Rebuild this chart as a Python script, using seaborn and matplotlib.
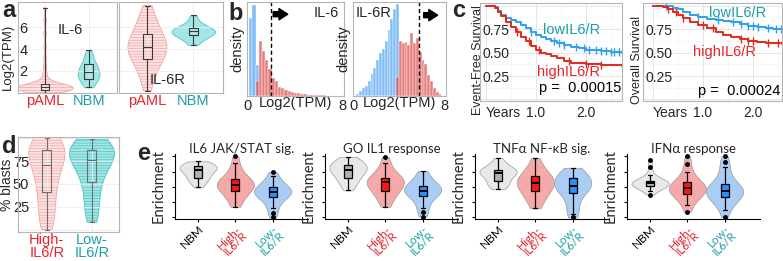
import numpy as np
import pandas as pd
import matplotlib
matplotlib.use("Agg")
import matplotlib.pyplot as plt
import seaborn as sns

# ---- a: log2(TPM), pediatric AML vs normal bone marrow ----
il6_paml = [0.0, 0.03, 0.06, 0.1, 0.13, 0.16, 0.19, 0.21, 0.23, 0.25,
            0.27, 0.3, 0.33, 0.36, 0.39, 0.42, 0.45, 0.48, 0.5, 0.52,
            0.55, 0.58, 0.6, 0.62, 0.64, 0.66, 0.68, 0.7, 0.72, 0.75,
            0.9, 1.1, 1.4, 1.8, 2.4, 3.2, 4.2, 5.4, 6.6, 7.8]
il6_nbm = [0.5, 0.8, 1.0, 1.15, 1.25, 1.3, 1.45, 1.6, 1.7, 1.8, 1.95,
           2.0, 2.1, 2.25, 2.45, 2.6, 2.7, 2.95, 3.3, 3.6, 3.95]
il6r_paml = [0.2, 1.0, 1.6, 2.1, 2.5, 2.8, 3.1, 3.3, 3.5, 3.7, 3.9, 4.05, 4.2,
             4.35, 4.5, 4.7, 4.9, 5.1, 5.4, 5.7, 6.0, 6.4, 6.8, 7.3, 8.0]
il6r_nbm = [4.4, 4.8, 5.0, 5.2, 5.3, 5.4, 5.5, 5.6, 5.65, 5.7, 5.8, 5.9,
            6.0, 6.2, 6.5, 7.1]

# ---- b: histogram bar heights (share of panel height) ----
b_il6_x_low = [0.27, 0.54, 0.81]
b_il6_low = [0.83, 0.97, 0.33]
b_il6_x_high = [0.81, 1.08, 1.35, 1.62, 1.89, 2.16, 2.43, 2.70, 2.97, 3.24,
                3.51, 3.78, 4.05, 4.32, 4.59, 4.86, 5.13, 5.40, 5.67, 5.94,
                6.21, 6.48, 6.75, 7.02, 7.29, 7.56, 7.83]
b_il6_high = [0.16, 0.59, 0.48, 0.38, 0.29, 0.19, 0.16, 0.10, 0.09, 0.06,
              0.05, 0.04, 0.03, 0.03, 0.02, 0.02, 0.015, 0.012, 0.01, 0.008,
              0.008, 0.006, 0.005, 0.005, 0.004, 0.003, 0.003]
b_il6r_x_low = [0.375, 0.625, 0.875, 1.125, 1.375, 1.625, 1.875, 2.125,
                2.375, 2.625, 2.875, 3.125, 3.375, 3.625, 3.875]
b_il6r_low = [0.02, 0.05, 0.085, 0.11, 0.16, 0.23, 0.30, 0.38,
              0.46, 0.50, 0.59, 0.70, 0.82, 0.93, 0.98]
b_il6r_x_high = [3.875, 4.125, 4.375, 4.625, 4.875, 5.125, 5.375, 5.625,
                 5.875, 6.125, 6.375, 6.625, 6.875, 7.125, 7.375, 7.625]
b_il6r_high = [0.2, 0.58, 0.56, 0.57, 0.54, 0.67, 0.56, 0.62,
               0.47, 0.38, 0.34, 0.22, 0.16, 0.08, 0.045, 0.02]

# ---- c: Kaplan-Meier curves (years, survival) ----
efs_low_t = [0, 0.18, 0.25, 0.3, 0.4, 0.5, 0.6, 0.7, 0.8, 0.9, 1.0, 1.1, 1.2,
             1.3, 1.41, 1.55, 1.7, 1.85, 2.0, 2.3, 2.5, 2.72]
efs_low_s = [1.0, 0.98, 0.94, 0.90, 0.87, 0.85, 0.83, 0.79, 0.76, 0.72, 0.69,
             0.66, 0.64, 0.62, 0.60, 0.58, 0.56, 0.545, 0.53, 0.52, 0.51, 0.50]
efs_high_t = [0, 0.18, 0.25, 0.3, 0.4, 0.5, 0.6, 0.7, 0.8, 0.9, 1.0, 1.1, 1.2,
              1.3, 1.41, 1.55, 1.7, 1.85, 2.0, 2.3, 2.72]
efs_high_s = [1.0, 0.97, 0.93, 0.89, 0.82, 0.77, 0.72, 0.67, 0.62, 0.57, 0.53,
              0.50, 0.48, 0.46, 0.44, 0.41, 0.39, 0.385, 0.38, 0.37, 0.36]
efs_low_cens = [0.9, 1.35, 1.45, 1.55, 1.8, 1.95, 2.05, 2.2, 2.3, 2.4, 2.5, 2.55, 2.65]
efs_high_cens = [0.62, 0.85, 1.05, 1.65, 2.0, 2.3]

os_low_t = [0, 0.3, 0.4, 0.5, 0.6, 0.74, 0.9, 1.08, 1.25, 1.4, 1.55, 1.74,
            1.9, 2.08, 2.25, 2.4, 2.58]
os_low_s = [1.0, 0.99, 0.975, 0.96, 0.93, 0.90, 0.88, 0.86, 0.85, 0.84, 0.82,
            0.80, 0.785, 0.775, 0.76, 0.75, 0.74]
os_high_t = [0, 0.2, 0.3, 0.4, 0.5, 0.6, 0.74, 0.9, 1.08, 1.25, 1.4, 1.55,
             1.74, 1.9, 2.08, 2.25, 2.4, 2.58]
os_high_s = [1.0, 0.98, 0.96, 0.93, 0.90, 0.87, 0.83, 0.79, 0.76, 0.72, 0.69,
             0.665, 0.64, 0.625, 0.615, 0.605, 0.60, 0.595]
os_low_cens = [0.25, 0.9, 1.3, 1.6, 1.75, 1.9, 2.0, 2.1, 2.3, 2.45, 2.55]
os_high_cens = [0.3, 0.45, 0.6, 1.0, 1.2, 1.75, 1.9, 2.0, 2.3, 2.5]

# ---- d: % blasts ----
blasts_high = [0, 6, 12, 18, 25, 32, 41, 46, 51, 56, 61, 66, 71, 75, 78, 81,
               84, 86, 87, 89, 91, 93, 95, 97, 100]
blasts_low = [8, 15, 22, 30, 38, 45, 52, 57, 62, 66, 70, 73, 76, 79, 81, 83,
              85, 86, 87, 88, 90, 92, 94, 96, 99]

# ---- e: enrichment scores ----
e_titles = ["IL6 JAK/STAT sig.", "GO IL1 response",
            "TNF\u03b1 NF-\u03baB sig.", "IFN\u03b1 response"]
jak_nbm = [1.97, 2.2, 2.35, 2.45, 2.55, 2.61, 2.75, 2.85, 2.95, 3.02, 3.1,
           3.15, 3.2, 3.25, 3.3, 3.35, 3.4, 3.45, 3.5, 3.58, 3.67]
jak_high = [0.7, 0.95, 1.2, 1.4, 1.6, 1.76, 1.85, 1.93, 2.0, 2.07, 2.14,
            2.2, 2.27, 2.34, 2.42, 2.5, 2.65, 2.85, 3.15, 3.55, 4.0]
jak_low = [0.0, 0.32, 0.6, 0.9, 1.15, 1.34, 1.42, 1.5, 1.56, 1.61, 1.66,
           1.71, 1.77, 1.83, 1.9, 1.97, 2.1, 2.25, 2.45, 2.7, 2.98]
il1_nbm = [1.77, 2.0, 2.2, 2.35, 2.5, 2.61, 2.75, 2.88, 2.97, 3.04, 3.1,
           3.17, 3.24, 3.3, 3.38, 3.46, 3.55, 3.63, 3.72, 3.82, 3.95]
il1_high = [0.7, 1.0, 1.25, 1.45, 1.62, 1.76, 1.88, 2.0, 2.1, 2.2, 2.29,
            2.36, 2.42, 2.48, 2.55, 2.61, 2.75, 2.95, 3.2, 3.55, 3.95]
il1_low = [0.06, 0.33, 0.6, 0.9, 1.15, 1.4, 1.5, 1.58, 1.65, 1.7, 1.76,
           1.82, 1.88, 1.94, 2.0, 2.08, 2.2, 2.38, 2.55, 2.8, 3.04]
tnf_nbm = [1.87, 2.0, 2.1, 2.2, 2.3, 2.4, 2.55, 2.68, 2.78, 2.86, 2.93,
           2.98, 3.02, 3.05, 3.08, 3.1, 3.18, 3.3, 3.45, 3.65, 3.89]
tnf_high = [0.59, 0.9, 1.15, 1.35, 1.52, 1.7, 1.82, 1.95, 2.05, 2.15, 2.23,
            2.32, 2.42, 2.5, 2.6, 2.72, 2.85, 3.0, 3.2, 3.5, 3.89]
tnf_low = [0.0, 0.2, 0.55, 0.9, 1.25, 1.59, 1.72, 1.83, 1.93, 2.0, 2.08,
           2.16, 2.25, 2.35, 2.48, 2.61, 2.7, 2.8, 2.9, 3.05, 3.25]
ifn_nbm = [1.5, 1.75, 1.9, 1.97, 2.01, 2.04, 2.1, 2.15, 2.18, 2.22, 2.25,
           2.28, 2.31, 2.34, 2.37, 2.4, 2.48, 2.6, 2.8, 3.3, 3.78]
ifn_high = [0.38, 0.8, 1.1, 1.3, 1.45, 1.55, 1.65, 1.73, 1.8, 1.86, 1.91,
            1.97, 2.03, 2.1, 2.2, 2.29, 2.45, 2.7, 3.0, 3.5, 4.0]
ifn_low = [0.0, 0.5, 0.85, 1.05, 1.2, 1.34, 1.43, 1.52, 1.6, 1.65, 1.7,
           1.76, 1.83, 1.9, 1.98, 2.08, 2.25, 2.5, 2.85, 3.3, 3.6, 4.0]

# ---------------- styling ----------------
W, H = 783, 261
RED, TEAL = '#e3242b', '#1b9ea5'
PINK, PINK_LN = '#fde4e4', '#f3a3a3'
CYAN, CYAN_LN = '#a3e6e6', '#4fc4c4'
HB, HR = '#80bdf7', '#dc4848'
KM_BLUE, KM_RED = '#2e9ff0', '#e3281c'
LATO = ['Lato', 'DejaVu Sans']

sns.set_style('white')
plt.rcParams['font.family'] = ['Liberation Sans', 'DejaVu Sans']
plt.rcParams['hatch.linewidth'] = 0.5


def box(l, t, r, b):
    return [l / W, 1 - b / H, (r - l) / W, (b - t) / H]


def frame(ax, below=True):
    for s in ax.spines.values():
        s.set_visible(True)
        s.set_color('#b5b5b5')
        s.set_linewidth(0.8)
    # 'line' keeps tick labels above the violin fills
    ax.set_axisbelow(below)


def vio(ax, vals, name, order, width, fill, edge, hatch=None, bw=1.0):
    n0 = len(ax.collections)
    sns.violinplot(x=[name] * len(vals), y=vals, order=order, ax=ax, inner=None,
                   cut=0, width=width, color=fill, linecolor=edge, linewidth=0.6,
                   saturation=1, bw_adjust=bw)
    if hatch:
        for c in ax.collections[n0:]:
            c.set_hatch(hatch)


def thinbox(ax, vals, name, order, color='#3a3a3a'):
    sns.boxplot(x=[name] * len(vals), y=vals, order=order, ax=ax, width=0.2,
                fill=False, color=color, linewidth=0.8, whis=(0, 100),
                showfliers=False, saturation=1)


def arrow(ax, x0, x1, y):
    ax.annotate('', xy=(x1, y), xytext=(x0, y), xycoords='axes fraction',
                arrowprops=dict(arrowstyle='simple,head_length=0.7,head_width=0.9,tail_width=0.4',
                                color='black', shrinkA=0, shrinkB=0, mutation_scale=9))


fig = plt.figure(figsize=(W / 100, H / 100), dpi=100)

# ---------------- a ----------------
a_order = ['pAML', 'NBM']
a1 = fig.add_axes(box(18, 2, 117, 93))
vio(a1, il6_paml, 'pAML', a_order, 1.3, PINK, PINK_LN, '------', bw=0.35)
vio(a1, il6_nbm, 'NBM', a_order, 0.5, CYAN, CYAN_LN)
thinbox(a1, il6_paml, 'pAML', a_order)
thinbox(a1, il6_nbm, 'NBM', a_order)
a1.text(0.53, 0.69, 'IL-6', transform=a1.transAxes, fontsize=10.5,
        ha='center', va='center')

a2 = fig.add_axes(box(119, 2, 223, 93))
vio(a2, il6r_paml, 'pAML', a_order, 0.85, PINK, PINK_LN, '------')
vio(a2, il6r_nbm, 'NBM', a_order, 0.95, CYAN, CYAN_LN)
thinbox(a2, il6r_paml, 'pAML', a_order)
thinbox(a2, il6r_nbm, 'NBM', a_order)
a2.text(0.47, 0.14, 'IL-6R', transform=a2.transAxes, fontsize=10.5,
        ha='center', va='center')

for ax in (a1, a2):
    frame(ax, 'line')
    ax.set_xlim(-0.62, 1.65)
    ax.set_ylim(-0.02, 8.33)
    ax.set_yticks([0, 2, 4, 6], labels=['', '2', '4', '6'])
    ax.grid(True, color='#ececec', linewidth=0.6)
    ax.tick_params(length=0, labelsize=10.5)
    ax.tick_params(axis='x', pad=1)
    ax.set_xlabel('')
    ax.set_ylabel('')
    for lbl, col in zip(ax.get_xticklabels(), [RED, TEAL]):
        lbl.set_color(col)
a1.tick_params(axis='y', pad=-7)
a2.tick_params(axis='y', labelleft=False)
a1.set_ylabel('Log2(TPM)', fontsize=9.5)
a1.yaxis.set_label_coords(-0.04, 0.4)

# ---------------- b ----------------
b1 = fig.add_axes(box(247, 2, 344, 96))
sns.histplot(x=b_il6_x_low, weights=b_il6_low, binwidth=0.27, binrange=(0.135, 7.965),
             color=HB, alpha=1, edgecolor='white', linewidth=0.3, ax=b1)
sns.histplot(x=b_il6_x_high, weights=b_il6_high, binwidth=0.27, binrange=(0.135, 7.965),
             color=HR, alpha=0.7, edgecolor='white', linewidth=0.3, ax=b1)
b1.axvline(2.0, ls=(0, (3, 2)), color='black', lw=1)
arrow(b1, 0.27, 0.42, 0.87)
b1.text(0.95, 0.88, 'IL-6', transform=b1.transAxes, fontsize=10.5, ha='right', va='center')

b2 = fig.add_axes(box(353, 2, 446, 96))
sns.histplot(x=b_il6r_x_low, weights=b_il6r_low, binwidth=0.25, binrange=(0, 8),
             color=HB, alpha=1, edgecolor='white', linewidth=0.3, ax=b2)
sns.histplot(x=b_il6r_x_high, weights=b_il6r_high, binwidth=0.25, binrange=(0, 8),
             color=HR, alpha=0.7, edgecolor='white', linewidth=0.3, ax=b2)
b2.axvline(5.77, ls=(0, (3, 2)), color='black', lw=1)
arrow(b2, 0.76, 0.91, 0.86)
b2.text(0.03, 0.88, 'IL-6R', transform=b2.transAxes, fontsize=10.5, ha='left', va='center')

for ax in (b1, b2):
    frame(ax)
    ax.set_xlim(-0.05, 8.15)
    ax.set_ylim(0, 1.0)
    ax.set_xticks([0, 8])
    ax.set_yticks([])
    ax.tick_params(length=0, labelsize=10.5, pad=2)
    ax.set_xlabel('Log2(TPM)', fontsize=10.5, labelpad=-12)
    ax.set_ylabel('density', fontsize=10.5, labelpad=2)


# ---------------- c ----------------
def km(rect, lo_t, lo_s, hi_t, hi_s, lo_c, hi_c, xlim, ylabel, ylab_x, ptxt,
       lo_xy, hi_xy, p_xy):
    ax = fig.add_axes(rect)
    frame(ax)
    for t, s, cens, col in ((lo_t, lo_s, lo_c, KM_BLUE), (hi_t, hi_s, hi_c, KM_RED)):
        sns.lineplot(x=t, y=s, drawstyle='steps-post', estimator=None, sort=False,
                     color=col, linewidth=1.4, ax=ax)
        idx = np.searchsorted(t, cens, side='right') - 1
        sns.scatterplot(x=cens, y=np.asarray(s)[idx], marker='|', s=30,
                        color=col, linewidth=1, ax=ax)
    ax.set_xlim(*xlim)
    ax.set_ylim(-0.016, 1.027)
    ax.set_yticks([0, 0.25, 0.5, 0.75, 1.0], labels=['', '0.25', '0.50', '0.75', ''])
    ax.set_yticks([0.125, 0.375, 0.625, 0.875], minor=True)
    ax.set_xticks([0, 1, 2], labels=['Years', '1.0', '2.0'])
    ax.set_xticks([0.5, 1.5, 2.5], minor=True)
    ax.get_xticklabels()[0].set_ha('left')
    ax.grid(True, which='major', color='#e6e6e6', linewidth=0.7)
    ax.grid(True, which='minor', color='#f3f3f3', linewidth=0.5)
    ax.tick_params(axis='y', which='both', length=0, pad=-21, labelsize=10)
    ax.tick_params(axis='x', which='major', length=2.5, color='#999999',
                   labelsize=10, pad=1)
    ax.tick_params(axis='x', which='minor', length=0)
    ax.set_ylabel(ylabel, fontsize=9)
    ax.yaxis.set_label_coords(ylab_x, 0.42)
    ax.set_xlabel('')
    ax.text(*lo_xy, 'lowIL6/R', color=TEAL, fontsize=10.5, ha='center', va='center')
    ax.text(*hi_xy, 'highIL6/R', color=RED, fontsize=10.5, ha='center', va='center')
    ax.text(*p_xy, ptxt, color='black', fontsize=10.5, ha='left', va='center')
    return ax


km(box(480, 3, 622, 101), efs_low_t, efs_low_s, efs_high_t, efs_high_s,
   efs_low_cens, efs_high_cens, (-0.12, 2.72), 'Event-Free Survival', 0.025,
   'p =  0.00015', (1.72, 0.74), (1.64, 0.29), (1.06, 0.12))
km(box(643, 3, 782, 101), os_low_t, os_low_s, os_high_t, os_high_s,
   os_low_cens, os_high_cens, (-0.2, 2.58), 'Overall Survival', 0.0,
   'p =  0.00024', (1.7, 0.92), (1.42, 0.505), (0.9, 0.09))

# ---------------- d ----------------
d_order = ['High', 'Low']
d = fig.add_axes(box(18, 137, 119, 232))
vio(d, blasts_high, 'High', d_order, 0.8, PINK, PINK_LN, '------')
vio(d, blasts_low, 'Low', d_order, 1.0, CYAN, CYAN_LN, '------')
thinbox(d, blasts_high, 'High', d_order, color='#6e6e6e')
thinbox(d, blasts_low, 'Low', d_order, color='#6e6e6e')
frame(d, 'line')
d.set_xlim(-0.64, 1.6)
d.set_ylim(-2.7, 101.3)
d.set_yticks([0, 25, 50, 75, 100], labels=['', '25', '50', '75', ''])
d.set_xticks([0, 1], labels=['High-\nIL6/R', 'Low-\nIL6/R'])
d.grid(True, color='#ececec', linewidth=0.6)
d.tick_params(length=0, labelsize=10.5)
d.tick_params(axis='y', pad=-8)
d.tick_params(axis='x', pad=1)
for lbl, col in zip(d.get_xticklabels(), [RED, TEAL]):
    lbl.set_color(col)
    lbl.set_linespacing(0.85)
d.set_xlabel('')
d.set_ylabel('% blasts', fontsize=10)
d.yaxis.set_label_coords(-0.04, 0.5)

# ---------------- e ----------------
e_order = ['NBM', 'High', 'Low']
VIO_PAL = {'NBM': '#e8e8e8', 'High': '#f6a9a9', 'Low': '#aacdf5'}
BOX_PAL = {'NBM': '#b0b0b0', 'High': '#ff1414', 'Low': '#2f8ff5'}
e_sets = [(jak_nbm, jak_high, jak_low), (il1_nbm, il1_high, il1_low),
          (tnf_nbm, tnf_high, tnf_low), (ifn_nbm, ifn_high, ifn_low)]
for left, title, (nbm, high, low) in zip([175, 325, 475, 627], e_titles, e_sets):
    ax = fig.add_axes(box(left, 154, left + 133, 219))
    df = pd.DataFrame({'grp': ['NBM'] * len(nbm) + ['High'] * len(high) + ['Low'] * len(low),
                       'val': nbm + high + low})
    sns.violinplot(data=df, x='grp', y='val', hue='grp', order=e_order, hue_order=e_order,
                   palette=VIO_PAL, inner=None, cut=0, density_norm='area', width=1.0,
                   linecolor='#9a9a9a', linewidth=0.5, saturation=1, legend=False, ax=ax)
    sns.boxplot(data=df, x='grp', y='val', hue='grp', order=e_order, hue_order=e_order,
                palette=BOX_PAL, width=0.22, linecolor='black', linewidth=0.9,
                saturation=1, legend=False, fliersize=2.5,
                flierprops=dict(marker='o', markerfacecolor='black', markeredgecolor='black'),
                medianprops=dict(linewidth=1.4), ax=ax)
    ax.set_xlim(-0.62, 2.95)
    ax.set_ylim(-0.1, 4.15)
    ax.set_yticks([0, 1, 2, 3, 4], labels=[])
    ax.set_xticks([0, 1, 2], labels=['NBM', 'High-\nIL6/R', 'Low-\nIL6/R'])
    ax.tick_params(axis='x', labelrotation=45)
    for lbl, col in zip(ax.get_xticklabels(), ['black', RED, TEAL]):
        lbl.set_color(col)
        lbl.set_rotation(45)
        lbl.set_ha('right')
        lbl.set_rotation_mode('anchor')
        lbl.set_fontfamily(LATO)
        lbl.set_fontsize(8.5)
        lbl.set_linespacing(0.8)
    for side in ('top', 'right'):
        ax.spines[side].set_visible(False)
    for side in ('left', 'bottom'):
        ax.spines[side].set_color('black')
        ax.spines[side].set_linewidth(0.8)
    ax.tick_params(axis='y', length=2.5, width=0.8, color='black', left=True)
    ax.tick_params(axis='x', length=2, width=0.8, color='black', bottom=True, pad=1)
    ax.set_xlabel('')
    ax.set_ylabel('Enrichment', fontsize=10.5, labelpad=1, family=LATO)
    ax.set_title(title, fontsize=9.5, pad=1, family=LATO)

# ---------------- panel letters ----------------
for txt, x, y in [('a', 2, 17), ('b', 228, 20), ('c', 452, 17), ('d', 2, 153), ('e', 137, 160)]:
    fig.text(x / W, 1 - y / H, txt, fontsize=17, fontweight='bold', va='baseline')

fig.savefig('out.png', dpi=100)
